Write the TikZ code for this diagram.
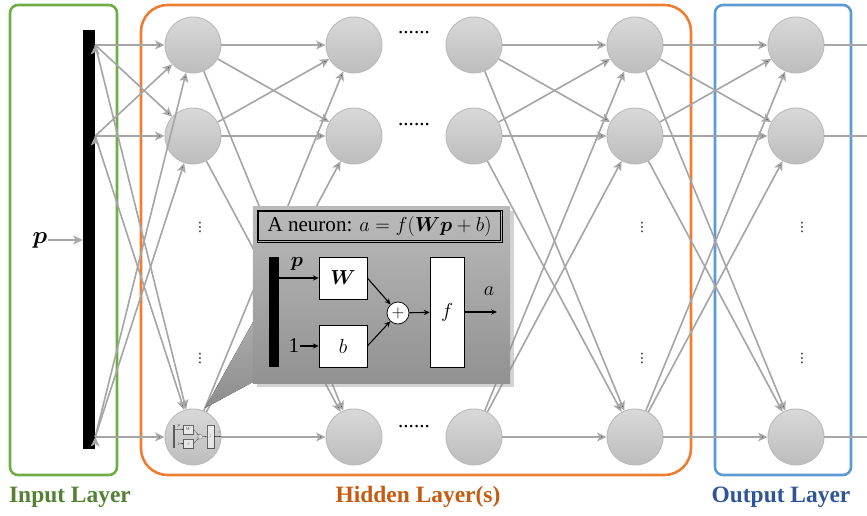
\documentclass[tikz,border=0pt]{standalone}
\usepackage{fontspec}
\setmainfont{Liberation Serif}
\newfontfamily\symfont{DejaVu Sans}
\usepackage{amsmath}
\usetikzlibrary{arrows.meta,shadows}

\definecolor{inputgreen}{HTML}{70AD47}
\definecolor{inputtext}{HTML}{548235}
\definecolor{hiddenorange}{HTML}{ED7D31}
\definecolor{hiddentext}{HTML}{C55A11}
\definecolor{outputblue}{HTML}{5B9BD5}
\definecolor{outputtext}{HTML}{2F5597}

\tikzset{
  neuron/.style={circle, minimum size=1.68cm, inner sep=0pt, draw=black!27, line width=0.8pt, top color=black!15, bottom color=black!26},
  edge/.style={draw=black!35, line width=1.4pt, -{Stealth[length=8pt,width=7.5pt,inset=2pt]}},
  wire/.style={draw=black!35, line width=1.4pt},
  layerbox/.style={line width=2.2pt},
  layerlabel/.style={inner sep=0pt, font=\fontsize{20}{22}\selectfont\bfseries},
  hdots/.style={inner sep=0pt, font=\fontsize{18}{20}\selectfont},
  vdotsnode/.style={inner sep=0pt, font=\symfont\fontsize{11}{12}\selectfont},
  calloutbox/.style={inner sep=0pt, top color=black!27, bottom color=black!43, drop shadow={shadow xshift=3pt, shadow yshift=-3pt, opacity=0.35}},
  titlebox/.style={draw=black, line width=0.7pt, inner sep=0pt, font=\fontsize{18}{20}\selectfont},
  sketchbox/.style={draw=black, fill=white, line width=0.6pt, inner sep=0pt, font=\fontsize{18}{20}\selectfont},
  sketchsum/.style={circle, draw=black, fill=white, line width=0.6pt, minimum size=0.66cm, inner sep=0pt, font=\fontsize{14}{16}\selectfont},
  sketchtext/.style={inner sep=0pt, font=\fontsize{18}{20}\selectfont},
  sketchline/.style={draw=black, line width=0.9pt, -{Stealth[length=5pt,width=4.5pt]}},
}

% the inside of one neuron, local units, (0,0) = left of the bar
\newcommand{\neuronsketch}[1]{%
  \node[fill=black, inner sep=0pt, minimum width=0.3cm, minimum height=3.3cm] (#1bar) at (5,0) {};
  \node[sketchbox, minimum width=1.44cm, minimum height=1.26cm] (#1W) at (74,-34) {$\boldsymbol{W}$};
  \node[sketchbox, minimum width=1.44cm, minimum height=1.26cm] (#1b) at (74,34) {$b$};
  \node[sketchsum] (#1sum) at (129,1) {$+$};
  \node[sketchbox, minimum width=1.02cm, minimum height=3.3cm] (#1f) at (178,0) {$f$};
  \node[sketchtext] (#1p) at (28,-48) {$\boldsymbol{p}$};
  \node[sketchtext] (#1one) at (25,34) {1};
  \node[sketchtext] (#1a) at (220,-21) {$a$};
  \coordinate (#1out) at (228,0);
  \draw[sketchline] (#1bar.east |- #1W) -- (#1W);
  \draw[sketchline] (#1one) -- (#1b);
  \draw[sketchline] (#1W.east) -- (#1sum);
  \draw[sketchline] (#1b.east) -- (#1sum);
  \draw[sketchline] (#1sum) -- (#1f);
  \draw[sketchline] (#1f.east) -- (#1out);
}

\begin{document}
\begin{tikzpicture}[x=0.03cm, y=-0.03cm]
  \useasboundingbox (0,0) rectangle (867,516);
  %%%%% LAYERS %%%%%

  \draw[layerbox, draw=inputgreen, rounded corners=0.24cm] (10,5) rectangle (117,475);
  \draw[layerbox, draw=hiddenorange, rounded corners=0.8cm] (141,5) rectangle (691,475);
  \draw[layerbox, draw=outputblue, rounded corners=0.24cm] (715,5) rectangle (851,475);

  \node[layerlabel, text=inputtext] (inlabel) at (70,497) {Input Layer};
  \node[layerlabel, text=hiddentext] (hidlabel) at (418,497) {Hidden Layer(s)};
  \node[layerlabel, text=outputtext] (outlabel) at (781,497) {Output Layer};

  %%%%% NEURONS %%%%%

  \node[fill=black, inner sep=0pt, minimum width=0.36cm, minimum height=12.57cm] (inbar) at (89,239.5) {};
  \node[inner sep=0pt, font=\fontsize{22}{24}\selectfont] (pin) at (40,240) {$\boldsymbol{p}$};

  \node[neuron] (h11) at (193,45) {};
  \node[neuron] (h12) at (193,136) {};
  \node[neuron] (h13) at (193,437) {};
  \node[neuron] (h21) at (354,45) {};
  \node[neuron] (h22) at (354,136) {};
  \node[neuron] (h23) at (354,437) {};
  \node[neuron] (h31) at (474,45) {};
  \node[neuron] (h32) at (474,136) {};
  \node[neuron] (h33) at (474,437) {};
  \node[neuron] (h41) at (635,45) {};
  \node[neuron] (h42) at (635,136) {};
  \node[neuron] (h43) at (635,437) {};
  \node[neuron] (o1) at (796,45) {};
  \node[neuron] (o2) at (796,136) {};
  \node[neuron] (o3) at (796,437) {};
  \coordinate (rightedge) at (867,0);

  \node[hdots] (d1) at (414,33) {......};
  \node[hdots] (d2) at (414,125) {......};
  \node[hdots] (d3) at (414,427) {......};
  \node[vdotsnode] (v11) at (200,227) {⋮};
  \node[vdotsnode] (v12) at (200,358) {⋮};
  \node[vdotsnode] (v41) at (642,227) {⋮};
  \node[vdotsnode] (v42) at (642,358) {⋮};
  \node[vdotsnode] (v51) at (802,227) {⋮};
  \node[vdotsnode] (v52) at (802,358) {⋮};

  %%%%% CONNECTIONS %%%%%

  \draw[edge] (pin) -- (pin -| inbar.west);
  \draw[edge] (inbar.east |- h11) edge (h11) edge (h12) edge (h13);
  \draw[edge] (inbar.east |- h12) edge (h11) edge (h12) edge (h13);
  \draw[edge] (inbar.east |- h13) edge (h11) edge (h12) edge (h13);

  \draw[edge] (h11) edge (h21) edge (h22) edge (h23);
  \draw[edge] (h12) edge (h21) edge (h22) edge (h23);
  \draw[edge] (h13) edge (h21) edge (h22) edge (h23);

  \draw[edge] (h31) edge (h41) edge (h42) edge (h43);
  \draw[edge] (h32) edge (h41) edge (h42) edge (h43);
  \draw[edge] (h33) edge (h41) edge (h42) edge (h43);

  \draw[edge] (h41) edge (o1) edge (o2) edge (o3);
  \draw[edge] (h42) edge (o1) edge (o2) edge (o3);
  \draw[edge] (h43) edge (o1) edge (o2) edge (o3);

  \draw[wire] (o1) -- (o1 -| rightedge);
  \draw[wire] (o2) -- (o2 -| rightedge);
  \draw[wire] (o3) -- (o3 -| rightedge);

  %%%%% CALLOUT %%%%%

  \coordinate (tip) at (205,408);
  \fill[top color=black!33, bottom color=black!45] (253,322) -- (tip) -- (253,382) -- cycle;
  \node[calloutbox, minimum width=7.71cm, minimum height=5.28cm] (callout) at (381.5,295) {};
  \node[titlebox, minimum width=7.35cm, minimum height=0.96cm] (title) at (379.5,226) {A neuron: $a=f(\boldsymbol{Wp}+b)$};
  \draw[line width=0.7pt] ([shift={(1.6pt,-1.6pt)}]title.north west) rectangle ([shift={(-1.6pt,1.6pt)}]title.south east);

  \begin{scope}[shift={(269,312)}]
    \neuronsketch{big}
  \end{scope}

  \begin{scope}[shift={(173,436.5)}, scale=0.21, transform shape, opacity=0.55,
      sketchbox/.append style={line width=0.25pt},
      sketchsum/.append style={line width=0.25pt},
      sketchline/.style={draw=black, line width=0.25pt, -{Stealth[length=1.5pt,width=1.3pt]}}]
    \neuronsketch{mini}
  \end{scope}

\end{tikzpicture}
\end{document}
